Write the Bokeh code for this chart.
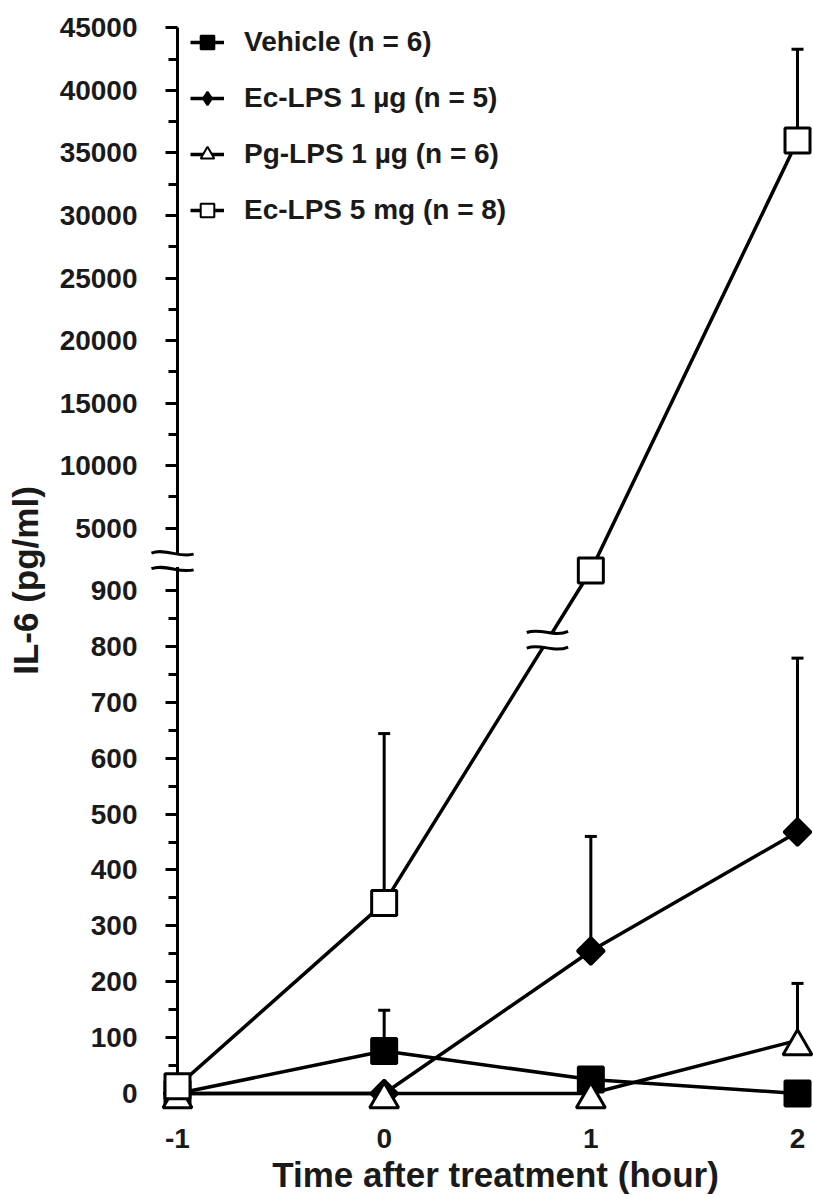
import numpy as np
from bokeh.plotting import figure
from bokeh.models import (ColumnDataSource, Range1d, FixedTicker, CustomJSTickFormatter,
                          CustomJSTransform, Whisker, TeeHead, Legend, LegendItem)
from bokeh.transform import transform
from bokeh.embed import file_html
from bokeh.resources import INLINE

# ---------------- data ----------------
hours = [-1, 0, 1, 2]
series_names = ["Vehicle (n = 6)", "Ec-LPS 1 µg (n = 5)", "Pg-LPS 1 µg (n = 6)", "Ec-LPS 5 mg (n = 8)"]
vehicle_mean = [0, 76, 25, 0]
vehicle_err = [0, 73, 0, 0]
ec1_mean = [0, 0, 255, 468]
ec1_err = [0, 0, 205, 311]
pg1_mean = [0, 0, 0, 95]
pg1_err = [0, 0, 0, 102]
ec5_mean = [13, 341, 1600, 36000]
ec5_err = [0, 303, 0, 7300]

y_lower_ticks = list(range(0, 901, 100))
y_lower_minor = list(range(50, 851, 100))
y_upper_ticks = list(range(5000, 45001, 5000))
y_upper_minor = list(range(7500, 42501, 5000))
x_ticks = [-1, 0, 1, 2]
x_tick_labels = ["-1", "0", "1", "2"]

x_label = "Time after treatment (hour)"
y_label = "IL-6 (pg/ml)"

# ---------------- broken axis transform ----------------
LOWER_MAX = 900
UPPER_FACTOR = 0.0125 / 0.5589


def brk(v):
    return v if v <= LOWER_MAX else LOWER_MAX + v * UPPER_FACTOR


T = CustomJSTransform(
    args=dict(lim=LOWER_MAX, f=UPPER_FACTOR),
    func="return x <= lim ? x : lim + x*f;",
    v_func="const out = new Float64Array(xs.length);"
           "for (let i = 0; i < xs.length; i++) { const x = xs[i]; out[i] = x <= lim ? x : lim + x*f; }"
           "return out;")

FONT = "Liberation Sans"
TXT = "#1a1a1a"
Y_START, Y_END = -76.9, 1912.7
TRI_SHIFT = 10.7   # triangles are drawn centred on their box, as in the original

p = figure(width=813, height=1198, output_backend="svg", toolbar_location=None,
           x_range=Range1d(hours[0], 2.0774), y_range=Range1d(Y_START, Y_END),
           min_border_left=177, min_border_right=0, min_border_top=24, min_border_bottom=62)
p.extra_y_ranges = {"tri": Range1d(Y_START + TRI_SHIFT, Y_END + TRI_SHIFT)}
p.outline_line_color = None
p.xgrid.visible = False
p.ygrid.visible = False
p.background_fill_color = "white"

# ---------------- series ----------------
styles = [
    dict(marker="square", size=25, fill_color="black", angle=0.0, yr="default"),
    dict(marker="square", size=19, fill_color="black", angle=np.pi / 4, yr="default"),
    dict(marker="triangle", size=29, fill_color="white", angle=0.0, yr="tri"),
    dict(marker="square", size=25, fill_color="white", angle=0.0, yr="default"),
]
legend_markers = ["square", "diamond", "triangle", "square"]
means = [vehicle_mean, ec1_mean, pg1_mean, ec5_mean]
errs = [vehicle_err, ec1_err, pg1_err, ec5_err]

sources = []
line_rs = []
for m in means:
    src = ColumnDataSource(dict(x=hours, y=m))
    sources.append(src)
    line_rs.append(p.line(x="x", y=transform("y", T), source=src, line_width=3.5, line_color="black"))

# error bars (upper only)
for m, e in zip(means, errs):
    xs = [h for h, ee in zip(hours, e) if ee > 0]
    lo = [mm for mm, ee in zip(m, e) if ee > 0]
    hi = [mm + ee for mm, ee in zip(m, e) if ee > 0]
    if not xs:
        continue
    wsrc = ColumnDataSource(dict(base=xs, lo=lo, hi=hi))
    w = Whisker(base="base", lower=transform("lo", T), upper=transform("hi", T), source=wsrc,
                line_width=3, line_color="black",
                upper_head=TeeHead(size=12, line_width=3, line_color="black"), lower_head=None)
    p.add_layout(w)

# decoration: break on Ec-LPS 5 mg line between 0 h and 1 h
frac = 0.79
xc = hours[1] + frac * (hours[2] - hours[1])
dc = brk(ec5_mean[1]) + frac * (brk(ec5_mean[2]) - brk(ec5_mean[1]))
p.quad(left=[xc - 0.032], right=[xc + 0.032], bottom=[dc - 11], top=[dc + 11],
       fill_color="white", line_color=None)
hw = 0.1
for off in (-14, 14):
    y0 = dc + off
    p.bezier(x0=[xc - hw], y0=[y0], x1=[xc + hw], y1=[y0 + 2],
             cx0=[xc - hw / 3], cy0=[y0 + 9], cx1=[xc + hw / 3], cy1=[y0 - 9],
             line_width=3, line_color="black")

# markers (overlay level so that the points at -1 h are not cut by the frame edge)
scatter_rs = []
legend_rs = []
for src, st, lm in zip(sources, styles, legend_markers):
    scatter_rs.append(p.scatter(x="x", y=transform("y", T), source=src, marker=st["marker"],
                                size=st["size"], angle=st["angle"], fill_color=st["fill_color"],
                                line_color="black", line_width=3, level="overlay",
                                y_range_name=st["yr"]))
    legend_rs.append(p.scatter(x="x", y=transform("y", T), source=src, marker=lm,
                               size=st["size"], fill_color=st["fill_color"],
                               line_color="black", line_width=2, visible=False))

# ---------------- axes ----------------
yax = p.yaxis[0]
yax.bounds = (0, brk(y_upper_ticks[-1]))
yax.ticker = FixedTicker(ticks=[brk(v) for v in y_lower_ticks + y_upper_ticks],
                         minor_ticks=[brk(v) for v in y_lower_minor + y_upper_minor])
yax.formatter = CustomJSTickFormatter(
    args=dict(lim=LOWER_MAX, f=UPPER_FACTOR),
    code="return String(tick <= lim + 1e-6 ? Math.round(tick) : Math.round((tick - lim)/f));")
yax.axis_line_width = 3
yax.major_tick_line_width = 3
yax.major_tick_out = 12
yax.major_tick_in = 0
yax.minor_tick_line_width = 3
yax.minor_tick_out = 9
yax.minor_tick_in = 0
yax.major_label_text_font = FONT
yax.major_label_text_font_style = "bold"
yax.major_label_text_font_size = "28px"
yax.major_label_text_color = TXT
yax.major_label_standoff = 28
yax.axis_label = y_label
yax.axis_label_text_font = FONT
yax.axis_label_text_font_style = "bold"
yax.axis_label_text_font_size = "35px"
yax.axis_label_text_color = TXT
yax.axis_label_standoff = 12

xax = p.xaxis[0]
xax.ticker = FixedTicker(ticks=x_ticks)
xax.major_label_overrides = {t: s for t, s in zip(x_ticks, x_tick_labels)}
xax.axis_line_color = None
xax.major_tick_line_color = None
xax.minor_tick_line_color = None
xax.major_label_text_font = FONT
xax.major_label_text_font_style = "bold"
xax.major_label_text_font_size = "28px"
xax.major_label_text_color = TXT
xax.major_label_standoff = -14
xax.axis_label = x_label
xax.axis_label_text_font = FONT
xax.axis_label_text_font_style = "bold"
xax.axis_label_text_font_size = "35px"
xax.axis_label_text_color = TXT
xax.axis_label_standoff = 4

# axis break on the y axis
BREAK_D = 953
p.quad(left=[hours[0] - 0.02], right=[hours[0] + 0.02], bottom=[BREAK_D - 11], top=[BREAK_D + 11],
       fill_color="white", line_color=None, level="overlay")
for off in (-14, 14):
    y0 = BREAK_D + off
    p.bezier(x0=[hours[0] - 0.126], y0=[y0], x1=[hours[0] + 0.078], y1=[y0 - 2],
             cx0=[hours[0] - 0.06], cy0=[y0 + 9], cx1=[hours[0] + 0.01], cy1=[y0 - 9],
             line_width=3, line_color="black", level="overlay")

# ---------------- legend ----------------
legend = Legend(items=[LegendItem(label=n, renderers=[lr, sr])
                       for n, lr, sr in zip(series_names, line_rs, legend_rs)],
                location=(13, 909), orientation="vertical",
                glyph_width=34, glyph_height=34, spacing=22, padding=0, margin=0,
                label_standoff=20, label_text_font=FONT, label_text_font_style="bold",
                label_text_font_size="28px", label_text_color=TXT,
                border_line_color=None, background_fill_alpha=0,
                inactive_fill_alpha=0)
p.add_layout(legend)

open("out.html", "w").write(file_html(p, INLINE))
